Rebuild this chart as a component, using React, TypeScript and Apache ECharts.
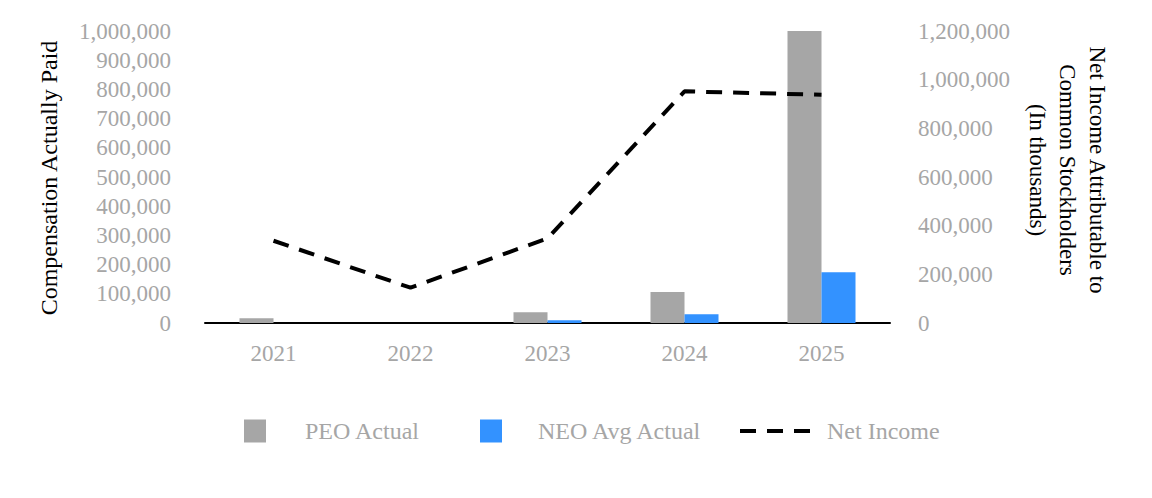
import React, { useEffect, useRef } from "react";
import * as echarts from "echarts";

const years = ["2021", "2022", "2023", "2024", "2025"];
const peoActual = [16000, 0, 37000, 106000, 1000000];
const neoAvgActual = [0, 0, 9000, 30000, 174000];
const netIncome = [338000, 145000, 348000, 952000, 938000];

const leftTicks = { min: 0, max: 1000000, interval: 100000 };
const rightTicks = { min: 0, max: 1200000, interval: 200000 };

const FONT = '"Liberation Serif", "Times New Roman", serif';
const GRAY_TEXT = "#a6a6a6";
const fmt = (v: number) => v.toLocaleString("en-US");

export default function App() {
  const ref = useRef<HTMLDivElement>(null);
  useEffect(() => {
    document.body.style.margin = "0";
    if (!ref.current) return;
    const chart = echarts.init(ref.current, undefined, { renderer: "svg" });
    chart.setOption({
      animation: false,
      backgroundColor: "#ffffff",
      textStyle: { fontFamily: FONT },
      grid: { left: 205, right: 262, top: 31, bottom: 175, containLabel: false },
      xAxis: {
        type: "category",
        data: years,
        axisLine: { show: true, lineStyle: { color: "#000000", width: 2 } },
        axisTick: { show: false },
        axisLabel: { color: GRAY_TEXT, fontSize: 23, fontFamily: FONT, margin: 19 },
      },
      yAxis: [
        {
          type: "value",
          position: "left",
          ...leftTicks,
          axisLine: { show: false },
          axisTick: { show: false },
          splitLine: { show: false },
          axisLabel: { color: GRAY_TEXT, fontSize: 23, fontFamily: FONT, margin: 34, formatter: fmt },
        },
        {
          type: "value",
          position: "right",
          ...rightTicks,
          axisLine: { show: false },
          axisTick: { show: false },
          splitLine: { show: false },
          axisLabel: { color: GRAY_TEXT, fontSize: 23, fontFamily: FONT, margin: 28, formatter: fmt },
        },
      ],
      legend: [
        {
          data: ["PEO Actual"],
          left: 244,
          top: 419,
          padding: 0,
          itemWidth: 22,
          itemHeight: 23,
          icon: "rect",
          textStyle: { color: GRAY_TEXT, fontSize: 24, fontFamily: FONT, padding: [0, 0, 0, 34] },
        },
        {
          data: ["NEO Avg Actual"],
          left: 480,
          top: 419,
          padding: 0,
          itemWidth: 22,
          itemHeight: 23,
          icon: "rect",
          textStyle: { color: GRAY_TEXT, fontSize: 24, fontFamily: FONT, padding: [0, 0, 0, 31] },
        },
        {
          data: ["Net Income"],
          left: 738,
          top: 419,
          padding: 0,
          itemWidth: 70,
          itemHeight: 23,
          itemStyle: { opacity: 0 },
          lineStyle: { width: 4, type: [16, 11], color: "#000000" },
          textStyle: { color: GRAY_TEXT, fontSize: 24, fontFamily: FONT, padding: [0, 0, 0, 12] },
        },
      ],
      graphic: [
        {
          type: "text",
          x: 49,
          y: 178,
          rotation: Math.PI / 2,
          style: {
            text: "Compensation Actually Paid",
            fill: "#000000",
            font: `24px ${FONT}`,
            align: "center",
            verticalAlign: "middle",
          },
        },
        {
          type: "text",
          x: 1067,
          y: 170,
          rotation: -Math.PI / 2,
          style: {
            text: "Net Income Attributable to\nCommon Stockholders\n(In thousands)",
            fill: "#000000",
            font: `23px ${FONT}`,
            lineHeight: 30,
            align: "center",
            verticalAlign: "middle",
          },
        },
      ],
      series: [
        {
          name: "PEO Actual",
          type: "bar",
          yAxisIndex: 0,
          data: peoActual,
          barWidth: 34,
          barGap: "0%",
          itemStyle: { color: "#a6a6a6" },
        },
        {
          name: "NEO Avg Actual",
          type: "bar",
          yAxisIndex: 0,
          data: neoAvgActual,
          barWidth: 34,
          barGap: "0%",
          itemStyle: { color: "#3392ff" },
        },
        {
          name: "Net Income",
          type: "line",
          yAxisIndex: 1,
          data: netIncome,
          symbol: "none",
          itemStyle: { color: "#000000" },
          lineStyle: { color: "#000000", width: 4, type: [16, 11] },
        },
      ],
    });
    return () => chart.dispose();
  }, []);
  return <div ref={ref} style={{ width: 1152, height: 498 }} />;
}
